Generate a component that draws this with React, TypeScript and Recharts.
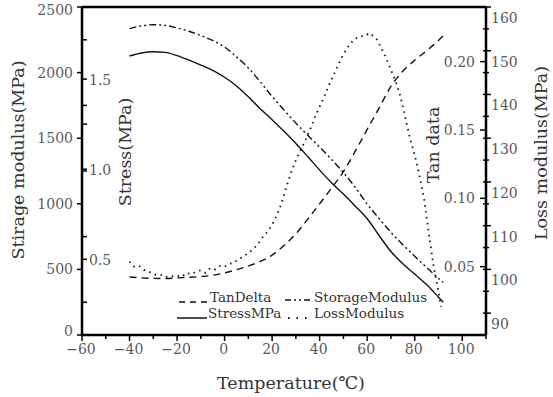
import React from "react";
import { LineChart, Line, XAxis, YAxis, ReferenceLine } from "recharts";

// temperature grid shared by the three smooth curves
const temps = [-40, -35, -30, -25, -20, -15, -10, -5, 0, 5, 10, 15, 20, 25, 30, 35, 40, 45, 50, 55, 60, 65, 70, 75, 80, 85, 90, 92];

const storageModulus = [2335, 2356, 2365, 2360, 2340, 2315, 2282, 2245, 2195, 2120, 2035, 1930, 1818, 1715, 1615, 1522, 1432, 1338, 1238, 1125, 998, 888, 782, 688, 600, 515, 432, 400];
const stressMPa = [1.628, 1.645, 1.652, 1.648, 1.63, 1.605, 1.578, 1.548, 1.51, 1.462, 1.402, 1.335, 1.275, 1.21, 1.143, 1.07, 0.995, 0.925, 0.862, 0.795, 0.725, 0.632, 0.543, 0.475, 0.418, 0.36, 0.29, 0.262];
const tanDelta = [0.0424, 0.0418, 0.0414, 0.0413, 0.0418, 0.0422, 0.0428, 0.0437, 0.0455, 0.0478, 0.0505, 0.0538, 0.0585, 0.0655, 0.074, 0.0848, 0.096, 0.1075, 0.1195, 0.1345, 0.1505, 0.166, 0.182, 0.193, 0.201, 0.208, 0.2155, 0.219];

// loss modulus is noisier, read on a finer grid
const lossTemps = [-40, -38, -36, -34, -32, -30, -28, -26, -24, -22, -20, -18, -16, -14, -12, -10, -8, -6, -4, -2, 0, 2, 4, 6, 8, 10, 12, 14, 16, 18, 20, 22, 24, 26, 28, 30, 32, 34, 36, 38, 40, 42, 44, 46, 48, 50, 52, 54, 56, 58, 60, 61, 62, 64, 66, 68, 70, 72, 74, 76, 78, 80, 82, 84, 86, 88, 90, 91];
const lossModulus = [101.8, 100.6, 100.8, 99.9, 99.5, 99.0, 98.6, 98.8, 98.2, 98.4, 98.6, 98.3, 99.2, 98.9, 99.5, 99.8, 99.2, 100.3, 100.0, 100.8, 100.6, 101.3, 101.5, 102.4, 102.9, 103.8, 104.6, 105.8, 107.3, 108.6, 110.2, 112.4, 115.2, 118.8, 122.2, 125.0, 127.3, 129.5, 132.0, 134.8, 137.2, 139.6, 142.2, 144.6, 147.0, 149.2, 150.9, 152.3, 153.1, 153.4, 153.8, 153.3, 153.6, 152.6, 150.6, 148.3, 145.6, 143.0, 139.6, 134.8, 130.0, 126.2, 121.5, 116.0, 108.0, 100.5, 95.0, 91.5];

const xTicks = [-60, -50, -40, -30, -20, -10, 0, 10, 20, 30, 40, 50, 60, 70, 80, 90, 100, 110];
const storageTicks = [0, 250, 500, 750, 1000, 1250, 1500, 1750, 2000, 2250, 2500];
const stressTicks = [0.5, 1.0, 1.25, 1.5];
const tanTicks = [0.05, 0.1, 0.15, 0.2];
const lossTicks = [90, 95, 100, 105, 110, 115, 120, 125, 130, 135, 140, 145, 150, 155, 160];

const storageData = temps.map((t, i) => ({ t, v: storageModulus[i] }));
const stressData = temps.map((t, i) => ({ t, v: stressMPa[i] }));
const tanData = temps.map((t, i) => ({ t, v: tanDelta[i] }));
const lossData = lossTemps.map((t, i) => ({ t, v: lossModulus[i] }));

const FONT = "'DejaVu Serif', 'Liberation Serif', serif";
const TICK_FILL = "#5a5a5a";

function AxisTitle(props: any) {
  const { px, py, rot, txt } = props;
  return (
    <text
      x={px}
      y={py}
      transform={rot ? `rotate(${rot} ${px} ${py})` : undefined}
      textAnchor="middle"
      dominantBaseline="central"
      fontFamily={FONT}
      fontSize={17.5}
      fill="#333"
    >
      {txt}
    </text>
  );
}

function XTick({ x, y, payload }: any) {
  const v = payload.value;
  const major = Math.abs(v % 20) === 0 && v <= 100;
  return (
    <g>
      <line x1={x} x2={x} y1={y} y2={y + (major ? 6 : 4)} stroke="#000" strokeWidth={1.5} />
      {major && (
        <text x={x - 1} y={y + 14} textAnchor="middle" dominantBaseline="central" fontFamily={FONT} fontSize={14} fill={TICK_FILL}>
          {v < 0 ? "\u2212" + Math.abs(v) : v}
        </text>
      )}
    </g>
  );
}

function StorageTick({ x, y, payload }: any) {
  const v = payload.value;
  const major = v % 500 === 0;
  const ly = v === 0 ? y - 4 : v === 2500 ? y + 3 : y;
  return (
    <g>
      {major ? (
        <line x1={x - 5} x2={x} y1={y} y2={y} stroke="#000" strokeWidth={1.5} />
      ) : (
        <line x1={x} x2={x + 5} y1={y} y2={y} stroke="#000" strokeWidth={1.5} />
      )}
      {major && (
        <text x={x - 9} y={ly} textAnchor="end" dominantBaseline="central" fontFamily={FONT} fontSize={14} fill={TICK_FILL}>
          {v}
        </text>
      )}
    </g>
  );
}

function StressTick({ x, y, payload }: any) {
  const v = payload.value;
  const major = Math.abs(v * 2 - Math.round(v * 2)) < 1e-6;
  return (
    <g>
      <line x1={x} x2={x + 5} y1={y} y2={y} stroke="#000" strokeWidth={1.5} />
      {major && (
        <text x={x + 7} y={y + 1} textAnchor="start" dominantBaseline="central" fontFamily={FONT} fontSize={14} fill={TICK_FILL}>
          {v.toFixed(1)}
        </text>
      )}
    </g>
  );
}

function TanTick({ x, y, payload }: any) {
  const v = payload.value;
  return (
    <g>
      <line x1={x - 6} x2={x} y1={y} y2={y} stroke="#000" strokeWidth={1.5} />
      <text x={x - 11} y={y} textAnchor="end" dominantBaseline="central" fontFamily={FONT} fontSize={14} fill={TICK_FILL}>
        {v.toFixed(2)}
      </text>
    </g>
  );
}

function LossTick({ x, y, payload }: any) {
  const v = payload.value;
  const major = v % 10 === 0;
  return (
    <g>
      <line x1={x - 3} x2={x + (major ? 5 : 3)} y1={y} y2={y} stroke="#000" strokeWidth={1.5} />
      {major && (
        <text x={x + 5} y={y + 11} textAnchor="start" dominantBaseline="central" fontFamily={FONT} fontSize={14} fill={TICK_FILL}>
          {v}
        </text>
      )}
    </g>
  );
}

function LegendOverlay() {
  const txt = { fontFamily: FONT, fontSize: 13.5, fill: "#333" };
  return (
    <svg width={553} height={397} style={{ position: "absolute", left: 0, top: 0, pointerEvents: "none" }}>
      <line x1={179} x2={207} y1={302} y2={302} stroke="#111" strokeWidth={1.5} strokeDasharray="6 5" />
      <text x={210} y={297} dominantBaseline="central" {...txt}>TanDelta</text>
      <line x1={285} x2={313} y1={300} y2={300} stroke="#111" strokeWidth={1.5} strokeDasharray="6 3 2 3 2 3" />
      <text x={314} y={297} dominantBaseline="central" {...txt}>StorageModulus</text>
      <line x1={177} x2={207} y1={318} y2={318} stroke="#111" strokeWidth={1.5} />
      <text x={208} y={313} dominantBaseline="central" {...txt}>StressMPa</text>
      <line x1={288} x2={313} y1={318} y2={318} stroke="#111" strokeWidth={2} strokeDasharray="1.5 7" />
      <text x={314} y={313} dominantBaseline="central" {...txt}>LossModulus</text>
    </svg>
  );
}

export default function App() {
  return (
    <div style={{ position: "absolute", left: 0, top: 0, width: 553, height: 397, background: "#fff" }}>
      <LineChart width={553} height={397} margin={{ top: 7, right: 0, bottom: 0, left: 0 }}>
        <XAxis
          dataKey="t"
          type="number"
          domain={[-60, 110]}
          ticks={xTicks}
          interval={0}
          allowDataOverflow
          height={62}
          tickSize={0}
          tickMargin={0}
          tick={<XTick />}
          axisLine={{ stroke: "#000", strokeWidth: 2.5 }}
          label={<AxisTitle px={291} py={383} txt="Temperature(℃)" />}
        />
        <YAxis
          yAxisId="storage"
          orientation="left"
          type="number"
          domain={[0, 2500]}
          ticks={storageTicks}
          interval={0}
          width={82}
          tickSize={0}
          tickMargin={0}
          tick={<StorageTick />}
          axisLine={{ stroke: "#000", strokeWidth: 2.5 }}
          label={<AxisTitle px={18} py={160} rot={-90} txt="Stirage modulus(MPa)" />}
        />
        <YAxis
          yAxisId="stress"
          orientation="left"
          mirror
          type="number"
          domain={[0.08, 1.9]}
          ticks={stressTicks}
          interval={0}
          width={60}
          tickSize={0}
          tickMargin={0}
          tick={<StressTick />}
          axisLine={false}
          label={<AxisTitle px={125} py={152} rot={-90} txt="Stress(MPa)" />}
        />
        <YAxis
          yAxisId="loss"
          orientation="right"
          type="number"
          domain={[85, 160]}
          ticks={lossTicks}
          interval={0}
          width={67}
          tickSize={0}
          tickMargin={0}
          tick={<LossTick />}
          axisLine={{ stroke: "#000", strokeWidth: 2.5 }}
          label={<AxisTitle px={541} py={153} rot={-90} txt="Loss modulus(MPa)" />}
        />
        <YAxis
          yAxisId="tan"
          orientation="right"
          mirror
          type="number"
          domain={[0, 0.24]}
          ticks={tanTicks}
          interval={0}
          width={60}
          tickSize={0}
          tickMargin={0}
          tick={<TanTick />}
          axisLine={false}
          label={<AxisTitle px={433} py={145} rot={-90} txt="Tan data" />}
        />
        <ReferenceLine yAxisId="storage" y={2500} stroke="#000" strokeWidth={2.5} />
        <Line
          yAxisId="tan"
          data={tanData}
          dataKey="v"
          type="monotone"
          stroke="#111"
          strokeWidth={1.4}
          strokeDasharray="7 5"
          dot={false}
          isAnimationActive={false}
        />
        <Line
          yAxisId="storage"
          data={storageData}
          dataKey="v"
          type="monotone"
          stroke="#111"
          strokeWidth={1.4}
          strokeDasharray="7 3 2 3 2 3"
          dot={false}
          isAnimationActive={false}
        />
        <Line
          yAxisId="stress"
          data={stressData}
          dataKey="v"
          type="monotone"
          stroke="#111"
          strokeWidth={1.4}
          dot={false}
          isAnimationActive={false}
        />
        <Line
          yAxisId="loss"
          data={lossData}
          dataKey="v"
          type="linear"
          stroke="#111"
          strokeWidth={1.8}
          strokeDasharray="1.5 4.5"
          dot={false}
          isAnimationActive={false}
        />
      </LineChart>
      <LegendOverlay />
    </div>
  );
}
